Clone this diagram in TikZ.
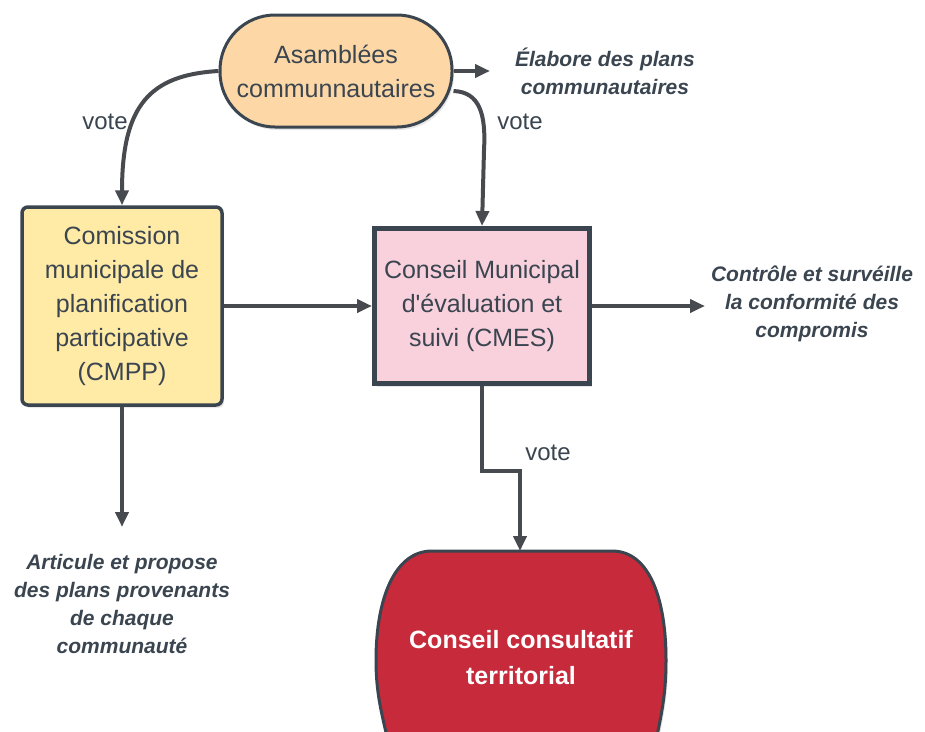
\documentclass[tikz,border=0pt]{standalone}
\usepackage{fontspec}
\setmainfont{Liberation Sans}[Ligatures=TeXOff]
\usetikzlibrary{arrows.meta}
\usetikzlibrary{shadows}

\definecolor{ink}{HTML}{3A4550}
\definecolor{wire}{HTML}{474A4E}
\definecolor{peach}{HTML}{FDD8A6}
\definecolor{straw}{HTML}{FFEAA6}
\definecolor{blush}{HTML}{F8D1DD}
\definecolor{crimson}{HTML}{C72A3A}

\begin{document}
\begin{tikzpicture}[x=1pt,y=-1pt,
  box/.style={draw=ink, text=ink, align=center, font=\fontsize{25}{34}\selectfont,
    drop shadow={shadow xshift=2pt,shadow yshift=-3pt,opacity=0.18}},
  note/.style={text=ink, align=center, font=\fontsize{21}{28}\selectfont\bfseries\itshape},
  votelabel/.style={text=ink, font=\fontsize{24}{28}\selectfont},
  link/.style={draw=wire, line width=4pt, -{Triangle[length=15pt,width=13pt]}}]
\clip (0,0) rectangle (925,731);

% boxes
\node (asm) [box, fill=peach, line width=3pt, rounded corners=55pt, minimum width=232pt, minimum height=112pt] at (336,71) {Asamblées\\communnautaires};
\node (cmpp) [box, fill=straw, line width=3.5pt, rounded corners=6pt, minimum width=200pt, minimum height=198pt] at (122,306) {Comission\\municipale de\\planification\\participative\\(CMPP)};
\node (cmes) [box, fill=blush, line width=5pt, minimum width=215pt, minimum height=155pt] at (482,306) {Conseil Municipal\\d'évaluation et\\suivi (CMES)};

% conseil consultatif, cut by the lower edge
\filldraw[fill=crimson, draw=ink, line width=3pt, drop shadow={shadow xshift=2pt,shadow yshift=-3pt,opacity=0.18}]
  (432,551) -- (612,551) .. controls (650,551) and (666,600) .. (666,660)
  .. controls (666,700) and (660,720) .. (652,760) -- (392,760)
  .. controls (384,720) and (376,700) .. (376,660)
  .. controls (376,600) and (394,551) .. (432,551) -- cycle;
\node (cct) [text=white, align=center, font=\fontsize{25}{36}\selectfont\bfseries] at (521,658) {Conseil consultatif\\territorial};
\coordinate (cct top) at (520,551);

% notes
\node (elab) [note] at (605,71) {Élabore des plans\\communautaires};
\node (ctrl) [note] at (812,304) {Contrôle et survéille\\la conformité des\\compromis};
\node (art) [note] at (122,604) {Articule et propose\\des plans provenants\\de chaque\\communauté};
\coordinate (elab end) at (490,71);
\coordinate (ctrl end) at (705,306);
\coordinate (art end) at (122,527);

% connectors
\draw[link] (asm.west) .. controls (150,75) and (122,105) .. (cmpp.north);
\draw[link] ([yshift=-20pt]asm.east) .. controls (480,92) and (486,115) .. (484,150) -- (cmes.north);
\draw[link] (asm.east) -- (elab end);
\draw[link] (cmpp.east) -- (cmes.west);
\draw[link] (cmes.east) -- (ctrl end);
\draw[link] (cmpp.south) -- (art end);
\draw[link] (cmes.south) -- ++(0,85) -| (cct top);

\node (v1) [votelabel] at (105,122) {vote};
\node (v2) [votelabel] at (520,122) {vote};
\node (v3) [votelabel] at (548,453) {vote};
\end{tikzpicture}
\end{document}
